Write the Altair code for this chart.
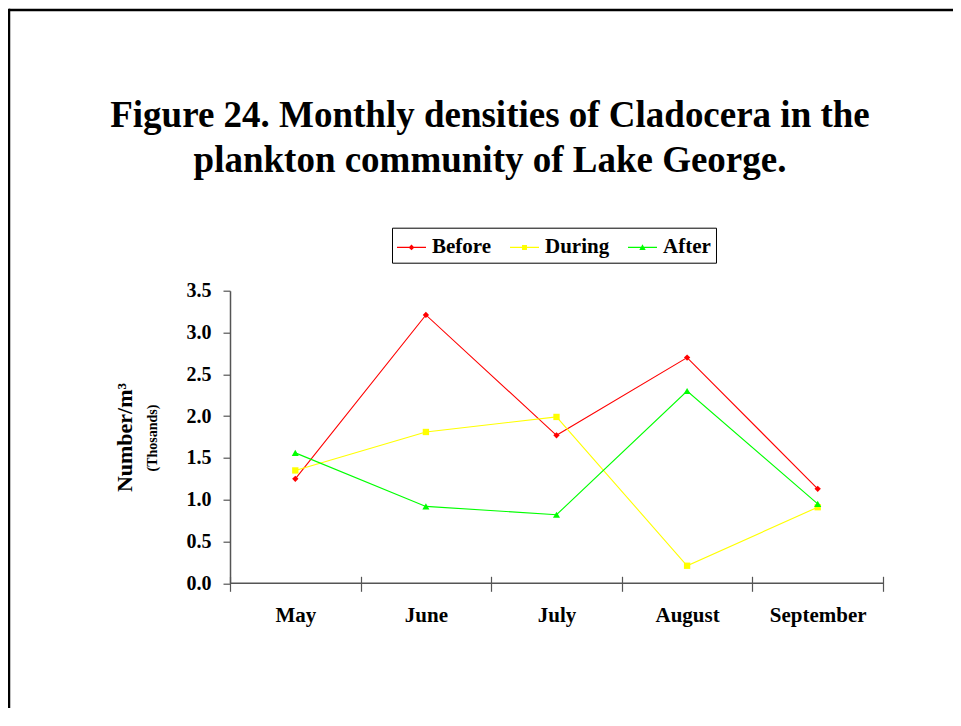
import altair as alt
import pandas as pd

months = ["May", "June", "July", "August", "September"]
series_names = ["Before", "During", "After"]
before = [1.25, 3.21, 1.77, 2.70, 1.13]
during = [1.35, 1.81, 1.99, 0.21, 0.91]
after = [1.56, 0.92, 0.82, 2.30, 0.95]
colors = ["#FF0000", "#FFFF00", "#00FF00"]
marker_shapes = ["diamond", "square", "triangle-up"]
legend_paths = [
    "M-1,-0.04H1V0.04H-1Z M0,-0.2L0.2,0L0,0.2L-0.2,0Z",
    "M-1,-0.04H1V0.04H-1Z M-0.17,-0.17H0.17V0.17H-0.17Z",
    "M-1,-0.04H1V0.04H-1Z M0,-0.22L0.22,0.17H-0.22Z",
]
title_text = "Figure 24. Monthly densities of Cladocera in the\nplankton community of Lake George."
y_title = "Number/m³"
y_subtitle = "(Thosands)"

rows = []
for name, vals in zip(series_names, [before, during, after]):
    for m, v in zip(months, vals):
        rows.append({"month": m, "series": name, "value": v})
df = pd.DataFrame(rows)

SERIF = "Liberation Serif"
W, H = 653, 292.6

x_enc = alt.X("month:N", sort=months, scale=alt.Scale(paddingInner=0, paddingOuter=0),
              axis=alt.Axis(title=None, tickBand="extent", domain=False, offset=-7, tickSize=15,
                            tickColor="#555555", tickWidth=1.2, labelFont=SERIF, labelFontWeight="bold",
                            labelFontSize=21, labelColor="black", labelPadding=13, labelAngle=0))
y_enc = alt.Y("value:Q", scale=alt.Scale(domain=[0, 3.5], nice=False),
              axis=alt.Axis(title=y_title, values=[0, 0.5, 1, 1.5, 2, 2.5, 3, 3.5], format=".1f",
                            grid=False, domainColor="#555555", domainWidth=1.5, tickColor="#555555",
                            tickSize=7, tickWidth=1.2, labelFont=SERIF, labelFontWeight="bold",
                            labelFontSize=20, labelColor="black", labelPadding=12,
                            titleFont=SERIF, titleFontWeight="bold", titleFontSize=22,
                            titleColor="black", titleX=-106, titleY=H / 2, titleAngle=270,
                            titleBaseline="middle", titleAlign="center"))
color_scale = alt.Scale(domain=series_names, range=colors)

base = alt.Chart(df)

legend_layer = base.mark_point(filled=True, opacity=0).encode(
    x=x_enc, y=y_enc,
    color=alt.Color("series:N", scale=color_scale, title=None),
    shape=alt.Shape("series:N", scale=alt.Scale(domain=series_names, range=legend_paths), title=None),
)
lines = base.mark_line(strokeWidth=1.1).encode(
    x=alt.X("month:N", sort=months), y="value:Q",
    color=alt.Color("series:N", scale=color_scale, title=None),
    detail="series:N",
)
point_layers = []
for name, shp, sz in zip(series_names, marker_shapes, [40, 40, 50]):
    point_layers.append(
        base.transform_filter(alt.datum.series == name).mark_point(filled=True, opacity=1, shape=shp, size=sz).encode(
            x=alt.X("month:N", sort=months), y="value:Q",
            color=alt.Color("series:N", scale=color_scale, title=None),
        )
    )

one = alt.Chart(pd.DataFrame({"t": [title_text], "s": [y_subtitle]}))
title_mark = one.mark_text(font=SERIF, fontWeight="bold", fontSize=37, align="center",
                           baseline="alphabetic", lineBreak="\n", lineHeight=45, color="black").encode(
    text="t:N", x=alt.value(260), y=alt.value(-164))
sub_mark = one.mark_text(font=SERIF, fontWeight="bold", fontSize=14, align="center",
                         baseline="middle", angle=270, color="black").encode(
    text="s:N", x=alt.value(-77), y=alt.value(H / 2 + 1))
frame_top = one.mark_rule(color="black", strokeWidth=2.5).encode(
    x=alt.value(-221), x2=alt.value(723), y=alt.value(-280.7))
frame_left = one.mark_rule(color="black", strokeWidth=2.5).encode(
    x=alt.value(-221), y=alt.value(-282), y2=alt.value(426))
baseline_rule = one.mark_rule(color="#555555", strokeWidth=1.5).encode(
    x=alt.value(0), x2=alt.value(W), y=alt.value(H))

chart = alt.layer(
    legend_layer, lines, *point_layers, baseline_rule, title_mark, sub_mark, frame_top, frame_left
).properties(
    width=W, height=H,
    autosize=alt.AutoSizeParams(type="none"),
    padding={"left": 222, "top": 282.7, "right": 70, "bottom": 125},
).configure(
    background="white"
).configure_view(
    stroke=None
).configure_legend(
    orient="none", legendX=162, legendY=-63, direction="horizontal",
    strokeColor="black", padding=5, labelFont=SERIF, labelFontWeight="bold",
    labelFontSize=21, labelColor="black", symbolSize=841, symbolStrokeWidth=0,
    columnPadding=18, labelOffset=6, symbolOpacity=1,
)

chart.save("out.html", embed_options={"renderer": "svg", "actions": False})
